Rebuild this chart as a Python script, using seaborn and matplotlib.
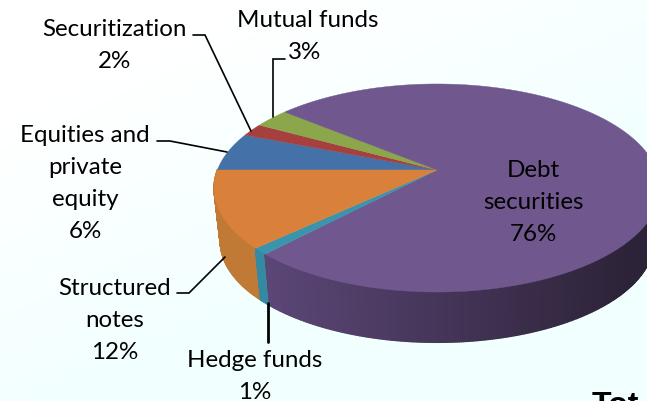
import numpy as np
import matplotlib
matplotlib.use("Agg")
import matplotlib.pyplot as plt
import matplotlib.colors as mcolors
import seaborn as sns

# --- data (clockwise, starting at the 9 o'clock position)
categories = ["Equities and\nprivate\nequity", "Securitization", "Mutual funds",
              "Debt\nsecurities", "Hedge funds", "Structured\nnotes"]
values = [6, 2, 3, 76, 1, 12]
top_colors = ["#4472A8", "#A5403F", "#8BA64B", "#70588F", "#3A94AB", "#D9813A"]
side_left = ["#35598A", "#853332", "#6F853C", "#5C4778", "#348AA0", "#C07A36"]
side_right = ["#35598A", "#853332", "#6F853C", "#2D2338", "#348AA0", "#B3702E"]

# --- layout
W, H = 647, 401
cx, cy = 437.0, 170.0
A, B, k = 219.6, 100.9, 0.173
shrink, drop = 0.972, 58.5
FS = 17.4
sns.set_theme(style="white")
plt.rcParams["font.family"] = ["Lato", "DejaVu Sans"]

fig = plt.figure(figsize=(W / 100, H / 100), dpi=100)
ax = fig.add_axes([0, 0, 1, 1])
ax.set_xlim(0, W)
ax.set_ylim(H, 0)
ax.axis("off")

# background wash
gx, gy = np.meshgrid(np.linspace(0, 1, 160), np.linspace(0, 1, 100))
t = np.clip((gx * 0.6 + gy * 0.8 - 0.25) * 1.6, 0, 1)
bg_cmap = mcolors.LinearSegmentedColormap.from_list("bg", ["#FFFFFF", "#F2FFFF"])
ax.imshow(t, extent=(0, W, H, 0), cmap=bg_cmap, vmin=0, vmax=1, aspect="auto", zorder=0)


def project(theta):
    """Disc angle (clockwise from 9 o'clock) to top-face coordinates."""
    u, v = -np.cos(theta), -np.sin(theta)
    w = 1 - k * v
    return cx + A * u / w, cy + B * v / w


def lower(x, y):
    return cx + (x - cx) * shrink, y * shrink + drop


fractions = np.cumsum([0] + values) / np.sum(values)
angles = fractions * 2 * np.pi

# side walls (only the near half of the rim shows)
for i in range(len(values)):
    th = np.arange(angles[i], angles[i + 1], np.radians(0.5))
    th = np.append(th, angles[i + 1])
    x, y = project(th)
    xb, yb = lower(x, y)
    cl = np.array(mcolors.to_rgb(side_left[i]))
    cr = np.array(mcolors.to_rgb(side_right[i]))
    for j in range(len(th) - 1):
        if -np.sin(th[j]) < 0.0:
            continue
        f = np.clip((x[j] - 260) / 370, 0, 1)
        col = cl + (cr - cl) * f
        ax.fill([x[j], x[j + 1], xb[j + 1], xb[j]],
                [y[j], y[j + 1], yb[j + 1], yb[j]],
                facecolor=col, edgecolor=col, lw=1.0, zorder=2 + 0.001 * (y[j] - 100))

# top face
for i in range(len(values)):
    th = np.linspace(angles[i], angles[i + 1], max(3, int(values[i] * 8)))
    x, y = project(th)
    ax.fill(np.r_[cx, x], np.r_[cy, y], color=top_colors[i], lw=0.3, zorder=4)

# leader lines
leaders = [
    ([157, 170, 227], [141, 141, 152], 1.2),
    ([193, 205, 251], [35, 35, 131], 1.2),
    ([285, 273, 273], [59, 59, 117], 1.2),
    ([177, 189, 225], [293, 293, 257], 1.2),
    ([268, 268], [303, 342], 2.0),
]
for lx, ly, lw in leaders:
    ax.plot(lx, ly, color="black", lw=lw, zorder=5, solid_joinstyle="miter")

# labels: centre x and last-line baseline
label_pos = [(85, 238), (114.5, 68), (305, 59), (533, 241), (255, 399), (114.5, 359)]
for i, cat in enumerate(categories):
    x, y = label_pos[i]
    if i == 2:
        ax.text(308, 27, cat, ha="center", va="baseline", fontsize=FS, color="black", zorder=6)
        ax.text(x, y, f"{values[i]}%", ha="center", va="baseline", fontsize=FS, color="black", zorder=6)
    else:
        ax.text(x, y, f"{cat}\n{values[i]}%", ha="center", va="baseline", fontsize=FS,
                color="black", linespacing=1.64, multialignment="center", zorder=6)

ax.text(592, 414, "Tot", family=["Liberation Sans"], fontsize=23, fontweight="bold",
        color="black", ha="left", va="baseline", zorder=6, clip_on=True)

sns.despine(ax=ax, left=True, bottom=True)
fig.savefig("out.png", dpi=100)
